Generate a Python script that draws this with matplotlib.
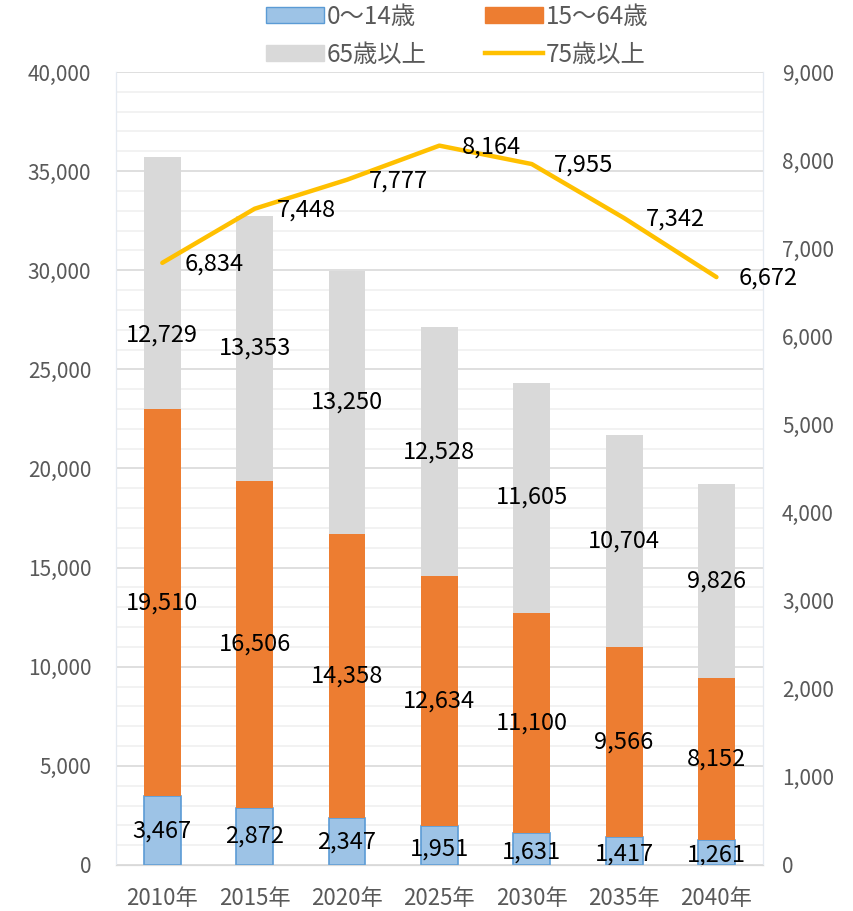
import numpy as np
import matplotlib
matplotlib.use("Agg")
import matplotlib.pyplot as plt
from matplotlib.ticker import FuncFormatter, MultipleLocator
from matplotlib.patches import Patch
from matplotlib.lines import Line2D

plt.rcParams['font.family'] = ['Noto Sans CJK JP', 'DejaVu Sans']

years = ["2010年", "2015年", "2020年", "2025年", "2030年", "2035年", "2040年"]
age_0_14 = [3467, 2872, 2347, 1951, 1631, 1417, 1261]
age_15_64 = [19510, 16506, 14358, 12634, 11100, 9566, 8152]
age_65_plus = [12729, 13353, 13250, 12528, 11605, 10704, 9826]
age_75_plus = [6834, 7448, 7777, 8164, 7955, 7342, 6672]
series_names = ["0～14歳", "15～64歳", "65歳以上", "75歳以上"]

c_blue, c_blue_edge = "#9DC3E6", "#5B9BD5"
c_orange = "#ED7D31"
c_gray = "#D9D9D9"
c_line = "#FFC000"
tick_col = "#595959"

fig = plt.figure(figsize=(8.54, 9.11), dpi=100)
ax = fig.add_axes([0.136, 0.0505, 0.757, 0.8705])
ax2 = ax.twinx()

x = np.arange(len(years))
w = 0.4
a = np.array(age_0_14)
b = np.array(age_15_64)
c = np.array(age_65_plus)

ax.bar(x, a, w, color=c_blue, edgecolor=c_blue_edge, linewidth=1.2, zorder=3)
ax.bar(x, b, w, bottom=a, color=c_orange, linewidth=0, zorder=3)
ax.bar(x, c, w, bottom=a + b, color=c_gray, linewidth=0, zorder=3)

lab_fs = 17
for i in range(len(x)):
    ax.text(x[i], a[i] / 2 - (150 if a[i] < 2000 else 0), f"{a[i]:,}", ha="center", va="center",
            fontsize=lab_fs, zorder=5)
    ax.text(x[i], a[i] + b[i] / 2, f"{b[i]:,}", ha="center", va="center", fontsize=lab_fs, zorder=5)
    yoff = -2600 if i == 0 else 0
    ax.text(x[i], a[i] + b[i] + c[i] / 2 + yoff, f"{c[i]:,}", ha="center", va="center",
            fontsize=lab_fs, zorder=5)

ax.set_xlim(-0.5, len(x) - 0.5)
ax.set_ylim(0, 40000)
ax.yaxis.set_major_locator(MultipleLocator(5000))
ax.yaxis.set_minor_locator(MultipleLocator(1000))
ax.yaxis.set_major_formatter(FuncFormatter(lambda v, p: f"{int(v):,}"))
ax.grid(axis="y", which="major", color="#D9D9D9", linewidth=1.2, zorder=0)
ax.grid(axis="y", which="minor", color="#F0F0F0", linewidth=1.2, zorder=0)
ax.set_axisbelow(True)
ax.set_xticks(x)
ax.set_xticklabels(years)
ax.tick_params(axis="both", which="both", length=0, labelsize=15, labelcolor=tick_col)
ax.tick_params(axis="x", labelsize=16, pad=16)
ax.tick_params(axis="y", pad=18)

ax2.plot(x, age_75_plus, color=c_line, linewidth=3.2, solid_capstyle="round", zorder=4)
for i, v in enumerate(age_75_plus):
    ax2.annotate(f"{v:,}", (x[i], v), xytext=(16, -1), textcoords="offset points",
                 ha="left", va="center", fontsize=lab_fs, zorder=5)
ax2.set_ylim(0, 9000)
ax2.yaxis.set_major_locator(MultipleLocator(1000))
ax2.yaxis.set_major_formatter(FuncFormatter(lambda v, p: f"{int(v):,}"))
ax2.tick_params(axis="y", length=0, labelsize=15, labelcolor=tick_col, pad=14)

for axis in (ax, ax2):
    for side in ("left", "right", "top"):
        axis.spines[side].set_color("#E4EAF1")
    axis.spines["bottom"].set_color("#D9D9D9")
    axis.spines["top"].set_visible(False)

handles = [
    Patch(facecolor=c_blue, edgecolor=c_blue_edge, label=series_names[0]),
    Patch(facecolor=c_gray, edgecolor=c_gray, label=series_names[2]),
    Patch(facecolor=c_orange, edgecolor=c_orange, label=series_names[1]),
    Line2D([0], [0], color=c_line, linewidth=3.2, label=series_names[3]),
]
leg = fig.legend(handles=handles, ncol=2, loc="upper center", bbox_to_anchor=(0.535, 1.02),
                 frameon=False, fontsize=17.5, handlelength=2.4, handleheight=0.65,
                 columnspacing=2.4, handletextpad=0.1, labelspacing=0.5)
for t in leg.get_texts():
    t.set_color(tick_col)

fig.savefig("out.png", dpi=100)
